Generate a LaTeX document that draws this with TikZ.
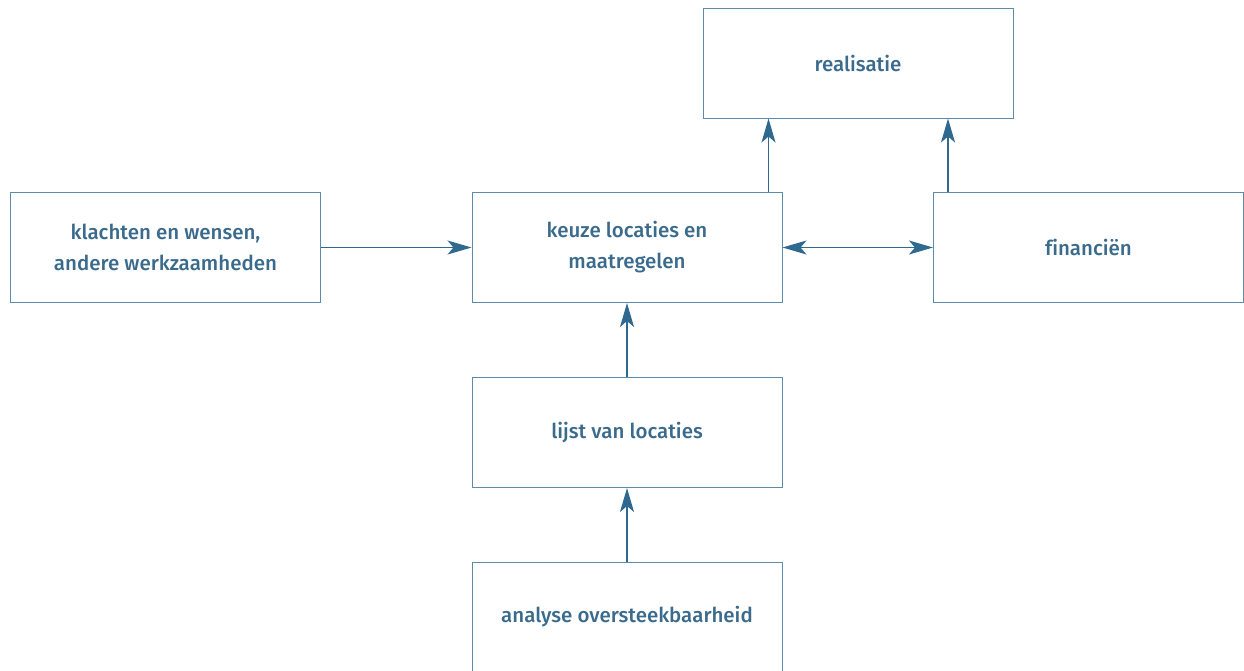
\documentclass[tikz,border=0pt]{standalone}
\usepackage{fontspec}
\setmainfont{Fira Sans Medium}[Ligatures=NoCommon]
\usetikzlibrary{arrows.meta}
\definecolor{txt}{HTML}{3A6A8C}
\definecolor{boxc}{HTML}{5E8BAA}
\definecolor{arrc}{HTML}{30698F}
\tikzset{
  box/.style={draw=boxc, line width=1pt, minimum width=310pt, minimum height=110pt,
    inner sep=0pt, text=txt, align=center, font=\fontsize{20.5}{31}\selectfont},
  arr/.style={draw=arrc, line width=1.4pt, -{Stealth[length=24pt,width=14pt,inset=6pt]}},
  darr/.style={draw=arrc, line width=1.4pt, {Stealth[length=24pt,width=14pt,inset=6pt]}-{Stealth[length=24pt,width=14pt,inset=6pt]}}
}
\begin{document}
\begin{tikzpicture}[x=1pt,y=-1pt]
\useasboundingbox (0,0) rectangle (1244,670);
\node[box] (realisatie) at (858,63) {realisatie};
\node[box] (klachten) at (165.5,247.5) {klachten en wensen,\\andere werkzaamheden};
\node[box] (keuze) at (627,247.5) {keuze locaties en\\maatregelen};
\node[box] (financien) at (1088.5,247.5) {financiën};
\node[box] (lijst) at (627,432.5) {lijst van locaties};
\node[box] (analyse) at (627,617) {analyse oversteekbaarheid};
\draw[arr] (klachten.east) -- (keuze.west);
\draw[darr] (keuze.east) -- (financien.west);
\draw[arr] (lijst.north) -- (keuze.south);
\draw[arr] (analyse.north) -- (lijst.south);
\draw[arr] ([xshift=-14pt]keuze.north east) -- ([xshift=-14pt]keuze.north east |- realisatie.south);
\draw[arr] ([xshift=15pt]financien.north west) -- ([xshift=15pt]financien.north west |- realisatie.south);
\end{tikzpicture}
\end{document}
